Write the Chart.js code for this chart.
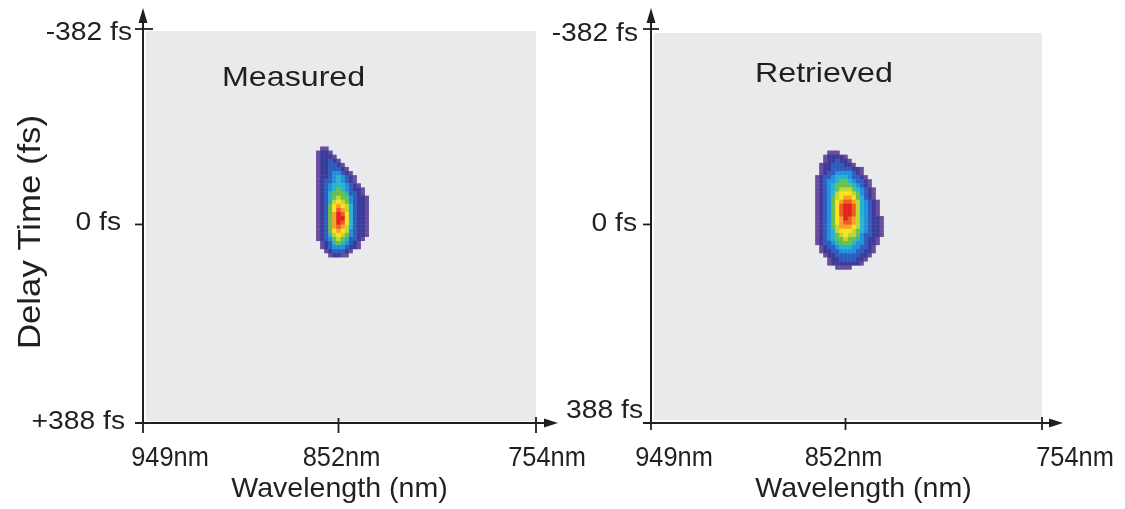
<!DOCTYPE html>
<html><head><meta charset="utf-8">
<script src="https://cdn.jsdelivr.net/npm/chart.js@4.4.1/dist/chart.umd.min.js"></script>
<style>
html,body{margin:0;padding:0;background:#fff;}
#wrap{position:relative;width:1125px;height:509px;overflow:hidden;background:#fff;}
.panel{position:absolute;top:0;height:509px;}
canvas{display:block;}
</style></head><body>
<div id="wrap">
<div class="panel" style="left:0;width:600px"><canvas id="c1" width="600" height="509"></canvas></div>
<div class="panel" style="left:540px;width:585px"><canvas id="c2" width="585" height="509"></canvas></div>
</div>
<script>
// ---- data ----
const wavelengthTicks = [949, 852, 754];
const wavelengthTickLabels = ['949nm', '852nm', '754nm'];
const delayTicks = [-382, 0, 388];
const measuredDelayLabels = ['-382 fs', '0 fs', '+388 fs'];
const retrievedDelayLabels = ['-382 fs', '0 fs', '388 fs'];
const xTitle = 'Wavelength (nm)';
const yTitle = 'Delay Time (fs)';
const panelTitles = ['Measured', 'Retrieved'];

const wavelengthStep = 2;   // nm per cell
const delayStep = 8;        // fs per cell
const measuredOrigin = [862, -148];   // wavelength (nm), delay (fs) of first cell
const retrievedOrigin = [866, -140];

// intensity levels 0..B (hex), one string per delay row, one char per wavelength column
const measuredRows = [
  "0110000000000",
  "1221000000000",
  "1222100000000",
  "1223210000000",
  "1223321000000",
  "1223332100000",
  "1223443210000",
  "1223454321000",
  "1233454321000",
  "1234555432100",
  "1234565432210",
  "1235666533210",
  "1235676643221",
  "1235787643221",
  "1236898753221",
  "12368A9753221",
  "12369BA853221",
  "12369BB853221",
  "12369BA853221",
  "12369A9753221",
  "1236898743221",
  "1235787643221",
  "1234676533210",
  "0123565432100",
  "0123444322100",
  "0012333210000",
  "0001221100000"
];
const retrievedRows = [
  "00011100000000000",
  "00122221000000000",
  "00122322100000000",
  "01223332210000000",
  "01223333322100000",
  "01233444432100000",
  "12334555433210000",
  "12344566543321000",
  "12345666654321000",
  "12345677765432100",
  "12345788876432100",
  "12346789986532100",
  "1234689AA97543210",
  "123468ABBA7543210",
  "123468ABBA7543210",
  "123468ABBA7543210",
  "1234689BA97543221",
  "1234689AA97543221",
  "12346799987543221",
  "12345788876543221",
  "12345678776433221",
  "12345667665432210",
  "12334566654432210",
  "01233455544332100",
  "01223344443322100",
  "00122333333221000",
  "00012233332210000",
  "00012222222100000",
  "00000111100000000"
];

// ---- styling ----
const palette = ['rgba(0,0,0,0)', '#6a4c9e', '#3b3c9a', '#2f5cbf', '#2092d9', '#27b4cf',
  '#68c04e', '#c0d834', '#fce31f', '#f8a21f', '#ef5a25', '#e1251c'];
const AXIS = '#231f20';
const FONT = '"Liberation Sans", Arial, Helvetica, sans-serif';

function cells(rows, origin) {
  const pts = [];
  rows.forEach((row, r) => {
    for (let c = 0; c < row.length; c++) {
      const v = parseInt(row[c], 16);
      if (v > 0) pts.push({x: origin[0] - c * wavelengthStep, y: origin[1] + r * delayStep, v: v});
    }
  });
  pts.sort((a, b) => a.v - b.v);
  return pts;
}

function txt(ctx, s, x, y, f, align, rot) {
  ctx.save();
  ctx.translate(x, y);
  if (rot) ctx.rotate(rot);
  ctx.scale(f.stretch, 1);
  ctx.font = f.size + 'px ' + FONT;
  ctx.textAlign = align;
  ctx.textBaseline = 'alphabetic';
  ctx.fillStyle = AXIS;
  ctx.fillText(s, 0, 0);
  ctx.restore();
}
function line(ctx, x1, y1, x2, y2) {
  ctx.beginPath(); ctx.moveTo(x1, y1); ctx.lineTo(x2, y2); ctx.stroke();
}

const fonts = {
  yTick: {size: 25, stretch: 1.13},
  xTick: {size: 27, stretch: 0.94},
  xTitle: {size: 28, stretch: 1.02},
  yTitle: {size: 31, stretch: 1.12},
  panel: {size: 28, stretch: 1.15}
};

const decor = {
  id: 'decor',
  beforeDraw(chart, args, o) {
    const {ctx, chartArea: a} = chart;
    ctx.save();
    ctx.fillStyle = o.plotBg;
    ctx.fillRect(a.left + o.bgInset[0], a.top + o.bgInset[1],
      a.right - a.left - o.bgInset[0] - o.bgInset[2], a.bottom - a.top - o.bgInset[1] - o.bgInset[3]);
    ctx.restore();
  },
  afterDraw(chart, args, o) {
    const {ctx, chartArea: a} = chart;
    const xs = chart.scales.x, ys = chart.scales.y;
    const L = a.left, B = a.bottom, R = a.right, T = a.top;
    ctx.save();
    ctx.strokeStyle = AXIS; ctx.fillStyle = AXIS; ctx.lineWidth = 2;
    // axis extensions and arrow heads
    const tipY = o.yArrowTip;
    line(ctx, L, T, L, tipY + 10);
    ctx.beginPath(); ctx.moveTo(L, tipY); ctx.lineTo(L - 4.5, tipY + 15); ctx.lineTo(L + 4.5, tipY + 15); ctx.closePath(); ctx.fill();
    const tipX = R + o.xArrowLen;
    line(ctx, R, B, tipX - 10, B);
    line(ctx, L - o.yTickOut, B, L, B);
    ctx.beginPath(); ctx.moveTo(tipX, B); ctx.lineTo(tipX - 14, B - 4.5); ctx.lineTo(tipX - 14, B + 4.5); ctx.closePath(); ctx.fill();
    // tick marks
    ctx.lineWidth = 1.8;
    delayTicks.forEach((v, i) => {
      const y = ys.getPixelForValue(v);
      line(ctx, L - o.yTickOut, y, L + o.yTickIn[i], y);
    });
    wavelengthTicks.forEach((v, i) => {
      const x = xs.getPixelForValue(v);
      line(ctx, x, B - o.xTickIn[i], x, B + o.xTickOut);
    });
    // tick labels
    o.delayLabels.forEach((s, i) => {
      const y = ys.getPixelForValue(delayTicks[i]);
      txt(ctx, s, L + o.yLabelDx[i], y + o.yLabelDy[i], fonts.yTick, 'right');
    });
    wavelengthTickLabels.forEach((s, i) => {
      const x = xs.getPixelForValue(wavelengthTicks[i]);
      txt(ctx, s, x + o.xLabelDx[i], o.xLabelBase, fonts.xTick, 'center');
    });
    // axis titles
    txt(ctx, xTitle, (L + R) / 2 + o.xTitleDx, o.xTitleBase, fonts.xTitle, 'center');
    if (o.showYTitle) txt(ctx, yTitle, o.yTitleBase, (T + B) / 2 + o.yTitleDy, fonts.yTitle, 'center', -Math.PI / 2);
    // panel label
    txt(ctx, o.panelTitle, L + o.panelTitlePos[0], o.panelTitlePos[1], fonts.panel, 'left');
    ctx.restore();
  }
};

function makeChart(id, rows, origin, cfg) {
  return new Chart(document.getElementById(id), {
    type: 'scatter',
    data: {
      datasets: [{
        data: cells(rows, origin),
        pointStyle: 'rect',
        pointRadius: 3.2,
        pointHoverRadius: 3.2,
        borderWidth: 0,
        backgroundColor: (c) => palette[c.raw ? c.raw.v : 0]
      }]
    },
    options: {
      responsive: false,
      animation: false,
      events: [],
      layout: {padding: {left: 0, top: cfg.top, right: cfg.right, bottom: 0}},
      plugins: {legend: {display: false}, tooltip: {enabled: false}, title: {display: false}, decor: cfg.decor},
      scales: {
        x: {
          type: 'linear', min: 754, max: 949, reverse: true,
          grid: {display: false}, ticks: {display: false},
          border: {display: true, color: AXIS, width: 2},
          afterFit: (s) => { s.height = cfg.xAxisH; }
        },
        y: {
          type: 'linear', min: -382, max: 388, reverse: true,
          grid: {display: false}, ticks: {display: false},
          border: {display: true, color: AXIS, width: 2},
          afterFit: (s) => { s.width = cfg.yAxisW; }
        }
      }
    },
    plugins: [decor]
  });
}

makeChart('c1', measuredRows, measuredOrigin, {
  top: 29, right: 600 - 536, xAxisH: 86, yAxisW: 143,
  decor: {
    plotBg: '#e9eaec', bgInset: [3, 2, 0, 2],
    yArrowTip: 8, xArrowLen: 22, yTickOut: 8, xTickOut: 10,
    yTickIn: [10, 0, 0], xTickIn: [0, 5, 6],
    delayLabels: measuredDelayLabels,
    yLabelDx: [-11, -22, -18], yLabelDy: [10.5, 6, 5.5],
    xLabelDx: [27, 3, 11], xLabelBase: 466,
    xTitleDx: 0, xTitleBase: 497,
    showYTitle: true, yTitleBase: 40, yTitleDy: 6,
    panelTitle: panelTitles[0], panelTitlePos: [79, 86]
  }
});
makeChart('c2', retrievedRows, retrievedOrigin, {
  top: 29, right: 585 - 502, xAxisH: 86, yAxisW: 111,
  decor: {
    plotBg: '#e9eaec', bgInset: [3, 4, 0, 3],
    yArrowTip: 8, xArrowLen: 21, yTickOut: 8, xTickOut: 7,
    yTickIn: [8, 0, 0], xTickIn: [0, 5, 6],
    delayLabels: retrievedDelayLabels,
    yLabelDx: [-13, -14, -8], yLabelDy: [11.5, 6.4, -5.3],
    xLabelDx: [23, -2, 33], xLabelBase: 466,
    xTitleDx: 17, xTitleBase: 497,
    showYTitle: false, yTitleBase: 0, yTitleDy: 0,
    panelTitle: panelTitles[1], panelTitlePos: [104, 82]
  }
});
</script>
</body></html>
